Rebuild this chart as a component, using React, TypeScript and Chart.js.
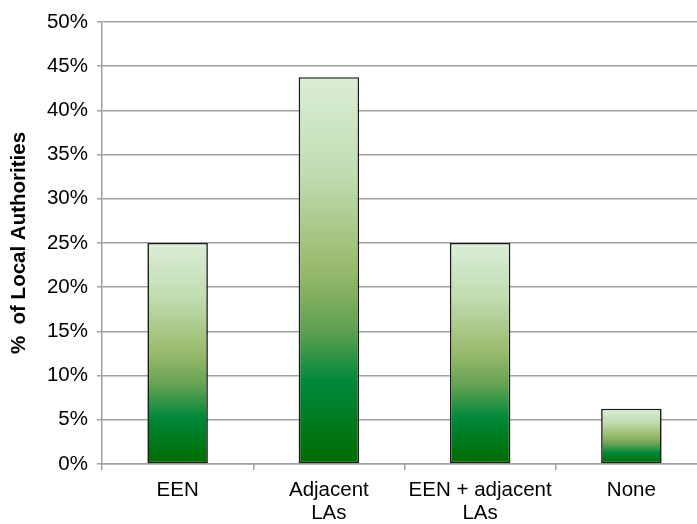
import React, { useEffect, useRef } from "react";
import { Chart, registerables } from "chart.js";

Chart.register(...registerables);

const categories: (string | string[])[] = ["EEN", ["Adjacent", "LAs"], ["EEN + adjacent", "LAs"], "None"];
const shares: number[] = [25, 43.75, 25, 6.25];
const yTicks: number[] = [0, 5, 10, 15, 20, 25, 30, 35, 40, 45, 50];
const yTitle = "%  of Local Authorities";

const FONT = "'Liberation Sans', Arial, sans-serif";

export default function App() {
  const ref = useRef<HTMLCanvasElement | null>(null);

  useEffect(() => {
    if (!ref.current) return;
    const chart = new Chart(ref.current, {
      type: "bar",
      data: {
        labels: categories,
        datasets: [
          {
            data: shares,
            barPercentage: 0.4,
            categoryPercentage: 1,
            borderColor: "#1a1a1a",
            borderWidth: 1.6,
            borderSkipped: false,
            backgroundColor: (ctx: any) => {
              const c = ctx.chart;
              const ys = c.scales && c.scales.y;
              if (!ys || ctx.type !== "data") return "#6aa84f";
              const top = ys.getPixelForValue(ctx.raw as number);
              const base = ys.getPixelForValue(0);
              if (!isFinite(top) || !isFinite(base) || top === base) return "#6aa84f";
              const g = c.ctx.createLinearGradient(0, top, 0, base);
              g.addColorStop(0, "#dbeed7");
              g.addColorStop(0.25, "#c0dcb0");
              g.addColorStop(0.5, "#98b96a");
              g.addColorStop(0.65, "#62a152");
              g.addColorStop(0.79, "#00883a");
              g.addColorStop(1, "#006b00");
              return g;
            },
          },
        ],
      },
      options: {
        animation: false,
        responsive: false,
        devicePixelRatio: 1,
        layout: { padding: { top: 22, left: 0, right: 0, bottom: 0 } },
        plugins: { legend: { display: false }, tooltip: { enabled: false } },
        scales: {
          x: {
            afterFit: (s: any) => {
              s.height = 60;
            },
            grid: {
              display: true,
              drawOnChartArea: false,
              drawTicks: true,
              tickLength: 6,
              color: "#a0a0a0",
              lineWidth: 1.5,
              offset: true,
            },
            border: { display: true, color: "#a0a0a0", width: 1.5 },
            ticks: {
              color: "#000",
              padding: 9,
              maxRotation: 0,
              autoSkip: false,
              font: { family: FONT, size: 20.5, lineHeight: 1.12 },
            },
          },
          y: {
            min: 0,
            max: 50,
            afterFit: (s: any) => {
              s.width = 102;
            },
            afterBuildTicks: (s: any) => {
              s.ticks = yTicks.map((v) => ({ value: v }));
            },
            grid: {
              color: "#a0a0a0",
              lineWidth: 1.5,
              tickLength: 5,
            },
            border: { display: true, color: "#a0a0a0", width: 1.5 },
            ticks: {
              color: "#000",
              padding: 9,
              font: { family: FONT, size: 20.5 },
              callback: (v: any) => `${v}%`,
            },
            title: {
              display: true,
              text: yTitle,
              color: "#000",
              padding: { top: 7, bottom: 0 },
              font: { family: FONT, size: 20.5, weight: "bold" },
            },
          },
        },
      },
    });
    return () => chart.destroy();
  }, []);

  return (
    <div
      style={{
        position: "fixed",
        left: 0,
        top: 0,
        width: 697,
        height: 524,
        overflow: "hidden",
        background: "#fff",
      }}
    >
      <canvas ref={ref} width={707} height={524} style={{ display: "block", width: 707, height: 524 }} />
    </div>
  );
}
